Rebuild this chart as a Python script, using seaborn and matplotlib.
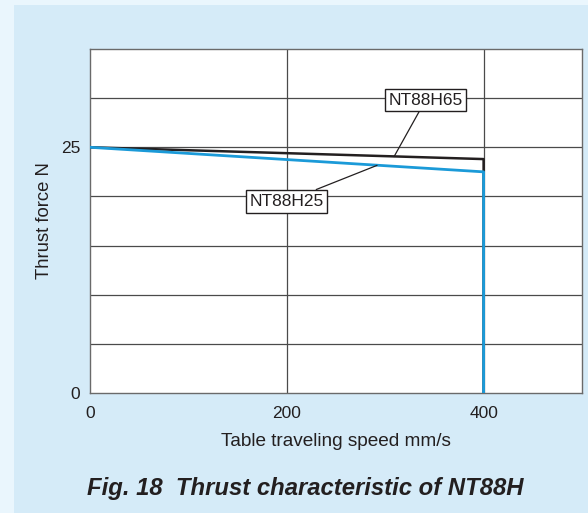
import matplotlib
matplotlib.use("Agg")
import matplotlib.pyplot as plt
from matplotlib.patches import Rectangle
import seaborn as sns
import pandas as pd

# Data
speed_h65 = [0, 400, 400]
force_h65 = [25, 23.8, 0]
speed_h25 = [0, 400, 400]
force_h25 = [25, 22.5, 0]
x_ticks = [0, 200, 400]
y_ticks = [0, 25]
label_h65 = "NT88H65"
label_h25 = "NT88H25"

sns.set_theme(style="white")
plt.rcParams['font.family'] = ['Liberation Sans', 'DejaVu Sans']

W, H = 588, 513
fig = plt.figure(figsize=(W / 100, H / 100), dpi=100)
fig.patch.set_facecolor("#eaf6fd")
bg = Rectangle((14 / W, 0), 1 - 14 / W, 1 - 5 / H, transform=fig.transFigure,
               facecolor="#d5ebf8", edgecolor="none", zorder=-10)
fig.add_artist(bg)

left, right, top, bottom = 90, 582, 49, 393
ax = fig.add_axes([left / W, 1 - bottom / H, (right - left) / W, (bottom - top) / H])
ax.set_zorder(1)
ax.set_facecolor("white")

df65 = pd.DataFrame({"speed": speed_h65, "force": force_h65, "i": range(3)})
df25 = pd.DataFrame({"speed": speed_h25, "force": force_h25, "i": range(3)})
sns.lineplot(data=df65, x="speed", y="force", sort=False, estimator=None, color="#231f20",
             lw=1.8, ax=ax, zorder=3)
sns.lineplot(data=df25, x="speed", y="force", sort=False, estimator=None, color="#1b9ad8",
             lw=2.0, ax=ax, zorder=4)

ax.set_xlim(0, 500)
ax.set_ylim(0, 35)
for xv in [200, 400]:
    ax.axvline(xv, color="#4a4a4a", lw=0.9, zorder=1)
for yv in range(5, 35, 5):
    ax.axhline(yv, color="#4a4a4a", lw=0.9, zorder=1)
for s in ax.spines.values():
    s.set_color("#6a6a6a")
    s.set_linewidth(1.0)

ax.set_xticks(x_ticks)
ax.set_yticks(y_ticks)
ax.tick_params(axis="x", length=0, labelsize=12.5, colors="#231f20", pad=9)
ax.tick_params(axis="y", length=0, labelsize=12.5, colors="#231f20", pad=7)
ax.set_xlabel("Table traveling speed mm/s", fontsize=13.7, color="#231f20", labelpad=9)
ax.set_ylabel("Thrust force N", fontsize=13.3, color="#231f20", labelpad=6)

bbox = dict(boxstyle="square,pad=0.22", facecolor="white", edgecolor="#231f20", lw=1.0)
ax.annotate(label_h65, xy=(309, 24.05), xytext=(341, 29.8), fontsize=12.5, color="#231f20",
            ha="center", va="center", bbox=bbox,
            arrowprops=dict(arrowstyle="-", color="#231f20", lw=0.9, shrinkA=0, shrinkB=0), zorder=6)
ax.annotate(label_h25, xy=(291.7, 23.16), xytext=(199.7, 19.5), fontsize=12.5, color="#231f20",
            ha="center", va="center", bbox=bbox,
            arrowprops=dict(arrowstyle="-", color="#231f20", lw=0.9, shrinkA=0, shrinkB=0), zorder=6)

fig.text(305 / W, 1 - 488 / H, "Fig. 18  Thrust characteristic of NT88H", fontsize=17.2,
         fontweight="bold", fontstyle="italic", color="#231f20", ha="center", va="center")

fig.savefig("out.png", dpi=100, facecolor=fig.get_facecolor())
